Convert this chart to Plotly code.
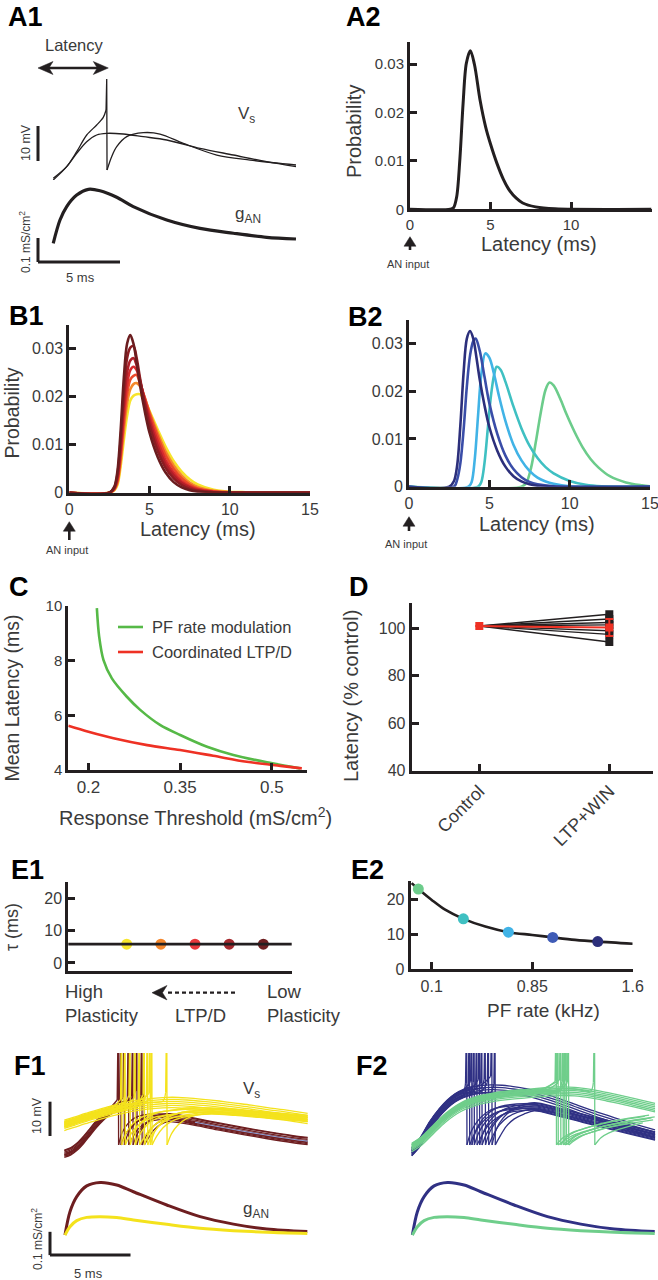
import plotly.graph_objects as go

W, H = 658, 1280
FONT = "Liberation Sans, Arial, Helvetica, sans-serif"
INK = "#231f20"
TXT = "#3a3a3a"

# ======================= DATA =======================
# A1 : somatic voltage (mV above rest) and AN conductance (mS/cm2) vs time (ms)
a1_flat_t = [0.93, 1.75, 2.36, 2.97, 3.58, 4.19, 5.20, 6.42, 7.85, 9.88, 11.91, 13.94, 15.73]
a1_flat_v = [0.48, 3.81, 7.62, 10.95, 12.86, 13.33, 13.14, 12.38, 11.43, 9.05, 7.14, 5.24, 3.81]
a1_pre_t = [0.93, 1.75, 2.36, 2.97, 3.58, 3.98, 4.15]
a1_pre_v = [0.00, 3.81, 8.10, 12.86, 15.71, 17.90, 20.00]
a1_spike_t, a1_spike_peak = 4.19, 28.86
a1_post_t = [4.21, 4.49, 4.80, 5.41, 6.42, 7.44, 8.86, 10.90, 12.93, 15.73]
a1_post_v = [2.86, 6.67, 9.52, 12.38, 13.52, 13.14, 10.48, 7.14, 5.71, 4.29]
a1_g_t = [0.93, 1.34, 1.75, 2.36, 3.07, 3.78, 4.80, 5.81, 7.85, 9.88, 11.91, 13.94, 15.73]
a1_g = [0.007, 0.104, 0.160, 0.208, 0.232, 0.226, 0.199, 0.160, 0.104, 0.069, 0.049, 0.032, 0.025]

# A2 : first-spike latency distribution
a2_t = [0, 2.5, 2.7, 2.9, 3.1, 3.3, 3.5, 3.75, 4.0, 4.35, 4.7, 5.0, 5.4, 5.8, 6.2, 6.6, 7.0, 7.8, 9.0, 15.0]
a2_p = [0, 0, 0.0003, 0.0026, 0.0105, 0.0220, 0.0302, 0.0328, 0.0300, 0.0226, 0.0170, 0.0135,
        0.0095, 0.0062, 0.0038, 0.0023, 0.0013, 0.0005, 0.0001, 0]

# B1 : latency distributions, coordinated LTP/D (low -> high plasticity)
b1_t = [0, 2.5, 2.8, 3.0, 3.2, 3.4, 3.6, 3.8, 4.0, 4.2, 4.4, 4.7, 5.0, 5.5, 6.0, 6.5, 7.0, 7.5, 8.0, 9.0, 10.0, 11.0, 15.0]
b1_p = [
    [0, 0, 0.0012, 0.0045, 0.0130, 0.0240, 0.0310, 0.0328, 0.0310, 0.0270, 0.0225, 0.0170, 0.0125, 0.0075, 0.0042, 0.0022, 0.0011, 0.0005, 0.0002, 0, 0, 0, 0],
    [0, 0, 0.0010, 0.0038, 0.0110, 0.0210, 0.0280, 0.0302, 0.0305, 0.0280, 0.0240, 0.0185, 0.0140, 0.0088, 0.0052, 0.0030, 0.0016, 0.0008, 0.0004, 0.0001, 0, 0, 0],
    [0, 0, 0.0009, 0.0032, 0.0095, 0.0185, 0.0250, 0.0275, 0.0280, 0.0265, 0.0235, 0.0190, 0.0150, 0.0098, 0.0060, 0.0036, 0.0020, 0.0011, 0.0005, 0.0001, 0, 0, 0],
    [0, 0, 0.0008, 0.0028, 0.0085, 0.0165, 0.0225, 0.0255, 0.0262, 0.0255, 0.0232, 0.0195, 0.0158, 0.0108, 0.0068, 0.0042, 0.0024, 0.0013, 0.0007, 0.0002, 0, 0, 0],
    [0, 0, 0.0007, 0.0024, 0.0075, 0.0148, 0.0205, 0.0235, 0.0243, 0.0245, 0.0228, 0.0198, 0.0165, 0.0118, 0.0078, 0.0050, 0.0030, 0.0017, 0.0009, 0.0003, 0.0001, 0, 0],
    [0, 0, 0.0006, 0.0020, 0.0065, 0.0130, 0.0185, 0.0215, 0.0226, 0.0228, 0.0222, 0.0198, 0.0168, 0.0125, 0.0086, 0.0057, 0.0036, 0.0021, 0.0012, 0.0004, 0.0001, 0, 0],
    [0, 0, 0.0005, 0.0016, 0.0055, 0.0110, 0.0160, 0.0192, 0.0202, 0.0205, 0.0205, 0.0192, 0.0170, 0.0132, 0.0096, 0.0066, 0.0044, 0.0028, 0.0017, 0.0006, 0.0002, 0.0001, 0],
]
b1_colors = ["#6b1d1f", "#8c1c22", "#b01f28", "#d62a2d", "#ec4a2b", "#f5892b", "#f7e42c"]

# B2 : latency distributions, PF rate modulation (high -> low PF rate)
b2_t = [
    [0, 2.5, 2.8, 3.0, 3.2, 3.4, 3.6, 3.8, 4.0, 4.2, 4.4, 4.7, 5.0, 5.5, 6.0, 6.5, 7.0, 7.5, 8.0, 9.0, 15.0],
    [0, 2.8, 3.0, 3.2, 3.4, 3.6, 3.8, 4.0, 4.15, 4.4, 4.7, 5.0, 5.5, 6.0, 6.5, 7.0, 7.5, 8.0, 9.0, 15.0],
    [0, 3.7, 3.9, 4.1, 4.3, 4.5, 4.75, 5.0, 5.3, 5.6, 6.0, 6.5, 7.0, 7.5, 8.0, 8.5, 9.0, 10.0, 15.0],
    [0, 4.3, 4.5, 4.7, 4.9, 5.1, 5.3, 5.46, 5.7, 6.0, 6.5, 7.0, 7.5, 8.0, 8.5, 9.0, 10.0, 11.0, 12.0, 15.0],
    [0, 7.0, 7.3, 7.6, 7.9, 8.2, 8.5, 8.74, 9.0, 9.4, 9.8, 10.3, 10.8, 11.3, 11.8, 12.5, 13.5, 14.5, 15.0],
]
b2_p = [
    [0, 0, 0.0012, 0.0045, 0.0130, 0.0240, 0.0310, 0.0326, 0.0310, 0.0270, 0.0225, 0.0170, 0.0125, 0.0075, 0.0042, 0.0022, 0.0011, 0.0005, 0.0002, 0, 0],
    [0, 0, 0.0015, 0.0050, 0.0120, 0.0210, 0.0275, 0.0305, 0.0310, 0.0285, 0.0230, 0.0175, 0.0110, 0.0065, 0.0037, 0.0020, 0.0010, 0.0005, 0.0001, 0],
    [0, 0, 0.0010, 0.0060, 0.0150, 0.0235, 0.0279, 0.0270, 0.0235, 0.0190, 0.0138, 0.0088, 0.0055, 0.0033, 0.0019, 0.0011, 0.0006, 0.0001, 0],
    [0, 0, 0.0010, 0.0050, 0.0120, 0.0190, 0.0235, 0.0251, 0.0245, 0.0220, 0.0168, 0.0122, 0.0086, 0.0060, 0.0041, 0.0028, 0.0012, 0.0004, 0.0001, 0],
    [0, 0, 0.0008, 0.0040, 0.0095, 0.0155, 0.0203, 0.0218, 0.0212, 0.0185, 0.0152, 0.0115, 0.0083, 0.0058, 0.0040, 0.0022, 0.0009, 0.0003, 0.0001],
]
b2_colors = ["#2c2f7b", "#3a4da8", "#41b3e6", "#3fc0c2", "#6ccc8b"]

# C : mean latency vs response threshold
c_pf_thr = [0.2137, 0.2175, 0.2246, 0.2383, 0.2628, 0.2846, 0.317, 0.35, 0.394, 0.437, 0.492, 0.546]
c_pf_lat = [9.92, 8.88, 8.02, 7.35, 6.68, 6.20, 5.65, 5.28, 4.85, 4.55, 4.28, 4.06]
c_ltp_thr = [0.167, 0.2, 0.241, 0.296, 0.35, 0.404, 0.459, 0.514, 0.549]
c_ltp_lat = [5.62, 5.40, 5.16, 4.91, 4.73, 4.52, 4.30, 4.15, 4.06]
c_names = ["PF rate modulation", "Coordinated LTP/D"]

# D : latency (% control)
d_categories = ["Control", "LTP+WIN"]
d_control = 101.0
d_ltpwin = [106.0, 104.0, 102.5, 101.5, 99.0, 97.5, 94.3]
d_mean, d_sem = 100.4, 3.6

# E1 / E2 : membrane time constant
e1_pos = [1, 2, 3, 4, 5]
e1_tau = [5.8, 5.8, 5.8, 5.8, 5.8]
e1_colors = ["#f7e62c", "#f5862b", "#e8383c", "#a5292e", "#6e1f21"]
e2_rate = [0.0, 0.336, 0.672, 1.003, 1.339]
e2_tau = [22.9, 14.4, 10.6, 9.1, 7.9]
e2_colors = ["#6ccc8b", "#3fc0c2", "#41b3e6", "#3f5bb6", "#2c2f7b"]
e2_fit_rate = [-0.05, 0.0, 0.1, 0.2, 0.336, 0.5, 0.672, 0.85, 1.003, 1.17, 1.339, 1.6]
e2_fit_tau = [24.6, 22.9, 19.8, 17.0, 14.4, 12.2, 10.6, 9.8, 9.1, 8.4, 7.9, 7.3]

# F : voltage traces (mV above rest) and conductances, time in ms
f_g_t = [0.93, 1.24, 1.66, 2.28, 3.11, 4.14, 5.18, 7.25, 9.32, 11.39, 13.46, 15.98]
f_g_strong = [0.004, 0.104, 0.169, 0.215, 0.230, 0.219, 0.190, 0.133, 0.083, 0.051, 0.030, 0.019]
f_g_weak = [0.004, 0.040, 0.066, 0.080, 0.083, 0.079, 0.069, 0.050, 0.033, 0.023, 0.016, 0.011]
f_spike_bottom = 4.4

# F1 maroon (low plasticity)
f1m_path_t = [0.89, 1.3, 1.7, 2.1, 2.5, 2.9, 3.3, 3.7, 4.1, 4.5, 5.0, 5.5, 6.0]
f1m_path_v = [1.9, 2.6, 4.0, 6.0, 8.3, 10.6, 12.6, 14.2, 15.3, 16.0, 16.6, 16.9, 17.0]
f1m_spikes = [4.24, 4.39, 4.60, 4.87, 5.14, 5.39, 5.70, 5.84]
f1m_offsets = [0.8, -0.3, 0.4, -0.8, 0.0, 1.0, -0.5, -1.1]
f1m_rec_dt = [0.02, 0.25, 0.6, 1.0, 1.5]
f1m_rec_v = [4.4, 7.3, 9.8, 11.4, 12.3]
f1m_post_t = [7.5, 9.0, 10.5, 12.0, 13.5, 15.0, 16.0]
f1m_post_v = [12.5, 11.2, 9.8, 8.5, 7.3, 6.2, 5.6]
f1_mean_t = [9.0, 10.5, 12.0, 13.5, 15.0, 16.0]
f1_mean_v = [11.0, 9.7, 8.4, 7.2, 6.1, 5.5]
# F1 yellow (high plasticity)
f1y_path_t = [0.89, 1.5, 2.2, 3.0, 3.8, 4.6, 5.4, 6.2, 7.0, 7.6, 8.5, 9.5, 10.5, 11.5, 12.5, 13.5, 14.5, 15.3, 16.0]
f1y_path_v = [10.3, 11.2, 12.3, 13.4, 14.5, 15.4, 16.1, 16.6, 16.9, 17.0, 16.8, 16.4, 15.9, 15.3, 14.7, 14.0, 13.4, 12.8, 12.3]
f1y_flat_offsets = [1.3, 0.7, 0.1, -0.5, -1.1, -1.7]
f1y_spikes = [4.45, 4.66, 4.97, 5.28, 5.55, 5.85, 6.05, 6.21, 6.32, 7.25]
f1y_offsets = [0.6, -0.4, 1.0, 0.0, -0.8, 0.4, -0.2, 0.8, -0.6, 0.2]
f1y_rec_dt = [0.02, 0.3, 0.7, 1.2, 1.9, 2.7]
f1y_rec_v = [4.4, 7.5, 10.0, 11.8, 13.0, 13.6]
f1y_post_t = [8.5, 10.0, 11.5, 13.0, 14.5, 16.0]
f1y_post_v = [14.2, 14.2, 13.8, 13.2, 12.6, 12.0]

# F2 navy (high PF rate)
f2n_path_t = [0.89, 1.4, 2.0, 2.6, 3.1, 3.6, 4.1, 4.6, 5.2, 5.8, 6.5, 7.2, 8.0, 9.0, 10.0, 11.0, 12.2, 13.5, 14.8, 16.0]
f2n_path_v = [2.4, 5.2, 10.0, 13.8, 16.3, 18.2, 19.4, 20.2, 20.7, 20.9, 20.8, 20.4, 19.8, 18.5, 17.0, 15.3, 13.3, 11.3, 9.4, 7.8]
f2n_flat_offsets = [1.0, 0.3, -0.4, -1.1]
f2n_spikes = [4.30, 4.47, 4.61, 4.76, 4.93, 5.09, 5.24, 5.45, 5.65, 5.86, 6.06]
f2n_offsets = [0.5, -0.5, 1.0, 0.0, -1.0, 0.7, -0.3, 0.3, -0.7, 1.2, -1.2]
f2n_rec_dt = [0.02, 0.3, 0.7, 1.2, 1.8]
f2n_rec_v = [4.6, 8.0, 11.0, 13.2, 14.6]
f2n_post_t = [8.5, 10.0, 11.5, 13.0, 14.5, 16.0]
f2n_post_v = [15.5, 14.0, 12.2, 10.4, 8.7, 7.0]
# F2 green (low PF rate)
f2g_path_t = [0.89, 1.5, 2.2, 3.0, 4.0, 5.0, 6.0, 7.0, 8.0, 9.0, 10.0, 11.0, 12.0, 13.0, 14.0, 15.0, 16.0]
f2g_path_v = [3.9, 5.8, 9.0, 12.6, 15.8, 17.6, 18.6, 19.2, 19.6, 20.0, 20.3, 20.2, 19.6, 18.7, 17.7, 16.6, 15.5]
f2g_flat_offsets = [1.0, 0.5, 0.0, -0.5, -1.0, -1.5]
f2g_spikes = [9.86, 9.97, 10.13, 10.28, 10.38, 10.48, 10.62, 12.24]
f2g_offsets = [0.4, -0.3, 0.8, 0.0, -0.6, 0.3, -0.2, 0.5]
f2g_rec_dt = [0.02, 0.4, 0.9, 1.5, 2.2, 3.0, 4.0, 5.5]
f2g_rec_v = [4.6, 6.0, 7.4, 8.4, 9.4, 10.3, 11.2, 12.3]

# ======================= HELPERS =======================
def xd(a, b):
    return [a / W, b / W]


def yd(top, bot):
    return [1 - bot / H, 1 - top / H]


def PX(x):
    return x / W


def PY(y):
    return 1 - y / H


def axname(i):
    return "" if i == 1 else str(i)


def vis_axis(domain, rng, anchor, tickvals, ticktext=None, fs=15, angle=None):
    d = dict(domain=domain, range=rng, anchor=anchor, showline=True, linecolor=INK, linewidth=3,
             ticks="inside", ticklen=7, tickwidth=3, tickcolor=INK, tickvals=tickvals,
             tickfont=dict(family=FONT, size=fs, color=TXT), showgrid=False, zeroline=False,
             fixedrange=True, automargin=False, ticklabeloverflow="allow")
    if ticktext is not None:
        d["ticktext"] = ticktext
    if angle is not None:
        d["tickangle"] = angle
    return d


def hid_axis(domain, rng, anchor):
    return dict(domain=domain, range=rng, anchor=anchor, visible=False, fixedrange=True,
                automargin=False)


traces = []


def line(xs, ys, ax, color, width, shape="spline", smoothing=0.9):
    k = axname(ax)
    ln = dict(color=color, width=width, shape=shape)
    if shape == "spline":
        ln["smoothing"] = smoothing
    traces.append(go.Scatter(x=list(xs), y=list(ys), mode="lines", line=ln, xaxis="x" + k,
                             yaxis="y" + k, hoverinfo="skip", showlegend=False))


def family(ax, color, width, path_t, path_v, flat_offsets, spikes, offsets, rec_dt, rec_v,
           post_t, post_v, top=45.0, tend=16.0):
    for off in flat_offsets:
        line(path_t, [v + off for v in path_v], ax, color, width)
    for ts, off in zip(spikes, offsets):
        pt = [t for t in path_t if t < ts - 0.15]
        pv = [v + off for t, v in zip(path_t, path_v) if t < ts - 0.15]
        sh_t, sh_v = ts - 0.07, pv[-1] + 2.5
        line(pt + [sh_t], pv + [sh_v], ax, color, width)
        line([sh_t, ts, ts + 0.02], [sh_v, top, f_spike_bottom], ax, color, width, shape="linear")
        qt = [ts + dt for dt in rec_dt]
        qv = [f_spike_bottom] + [v + off for v in rec_v[1:]]
        end = qt[-1]
        for t, v in zip(post_t, post_v):
            if t > end + 0.3:
                qt.append(t)
                qv.append(v + off)
        keep = [(t, v) for t, v in zip(qt, qv) if t <= tend]
        line([k[0] for k in keep], [k[1] for k in keep], ax, color, width)


# ======================= AXES =======================
lay = {}
# 1 A1 Vs, 2 A1 g
lay["xaxis"] = hid_axis(xd(29.8, 300.4), [-0.5, 16], "y")
lay["yaxis"] = hid_axis(yd(72, 180), [0, 30.86], "x")
lay["xaxis2"] = hid_axis(xd(29.8, 300.4), [-0.5, 16], "y2")
lay["yaxis2"] = hid_axis(yd(180, 270), [-0.1042, 0.2708], "x2")
# 3 A2
lay["xaxis3"] = vis_axis(xd(410, 651.5), [0, 15], "y3", [0, 5, 10], fs=15)
lay["yaxis3"] = vis_axis(yd(42, 209.3), [0, 0.0346], "x3", [0, 0.01, 0.02, 0.03],
                         ["0", "0.01", "0.02", "0.03"], fs=15)
# 4 B1
lay["xaxis4"] = vis_axis(xd(69.3, 310), [0, 15], "y4", [0, 5, 10, 15], fs=16)
lay["yaxis4"] = vis_axis(yd(325, 492.7), [0, 0.0349], "x4", [0, 0.01, 0.02, 0.03],
                         ["0", "0.01", "0.02", "0.03"], fs=16)
# 5 B2
lay["xaxis5"] = vis_axis(xd(409, 650), [0, 15], "y5", [0, 5, 10, 15], fs=16)
lay["yaxis5"] = vis_axis(yd(320, 486.7), [0, 0.0349], "x5", [0, 0.01, 0.02, 0.03],
                         ["0", "0.01", "0.02", "0.03"], fs=16)
# 6 C
lay["xaxis6"] = vis_axis(xd(68.3, 306.7), [0.167, 0.557], "y6", [0.2, 0.35, 0.5],
                         ["0.2", "0.35", "0.5"], fs=17)
lay["yaxis6"] = vis_axis(yd(606, 770), [4, 10], "x6", [4, 6, 8, 10], fs=15)
# 7 D
lay["xaxis7"] = vis_axis(xd(411.7, 653), [0.48, 2.336], "y7", [1, 2], d_categories, fs=18, angle=-45)
lay["yaxis7"] = vis_axis(yd(603.3, 770.7), [40, 110.6], "x7", [40, 60, 80, 100], fs=16)
# 8 E1
lay["xaxis8"] = vis_axis(xd(68.3, 291.7), [-0.71, 5.83], "y8", [], fs=16)
lay["yaxis8"] = vis_axis(yd(881.7, 971), [-2.5, 25.1], "x8", [0, 10, 20], fs=16)
# 9 E2
lay["xaxis9"] = vis_axis(xd(410.7, 632.7), [-0.057, 1.6], "y9", [0.1, 0.85, 1.6],
                         ["0.1", "0.85", "1.6"], fs=16)
lay["yaxis9"] = vis_axis(yd(881, 969.3), [0, 25.2], "x9", [0, 10, 20], fs=16)
# 10/11 F1, 12/13 F2
lay["xaxis10"] = hid_axis(xd(41.95, 310.07), [-0.5, 16.15], "y10")
lay["yaxis10"] = hid_axis(yd(1053, 1160), [0, 31.2], "x10")
lay["xaxis11"] = hid_axis(xd(41.95, 310.07), [-0.5, 16.15], "y11")
lay["yaxis11"] = hid_axis(yd(1170, 1268), [-0.1373, 0.2833], "x11")
lay["xaxis12"] = hid_axis(xd(389.35, 657.47), [-0.5, 16.15], "y12")
lay["yaxis12"] = hid_axis(yd(1053, 1160), [0, 31.2], "x12")
lay["xaxis13"] = hid_axis(xd(389.35, 657.47), [-0.5, 16.15], "y13")
lay["yaxis13"] = hid_axis(yd(1170, 1268), [-0.1373, 0.2833], "x13")

# ======================= TRACES =======================
# A1
line(a1_flat_t, a1_flat_v, 1, INK, 1.3)
line(a1_pre_t, a1_pre_v, 1, INK, 1.3)
line([a1_pre_t[-1], a1_spike_t, a1_post_t[0]], [a1_pre_v[-1], a1_spike_peak, a1_post_v[0]], 1, INK, 1.3,
     shape="linear")
line(a1_post_t, a1_post_v, 1, INK, 1.3)
line(a1_g_t, a1_g, 2, INK, 3.2)
# A2
line(a2_t, a2_p, 3, INK, 3)
# B1 (yellow drawn first, darkest on top)
for p, c in list(zip(b1_p, b1_colors))[::-1]:
    line(b1_t, p, 4, c, 2.6)
# B2
for t, p, c in list(zip(b2_t, b2_p, b2_colors))[::-1]:
    line(t, p, 5, c, 2.6)
# C
line(c_pf_thr, c_pf_lat, 6, "#56b947", 2.6)
line(c_ltp_thr, c_ltp_lat, 6, "#ee3124", 2.6)
# D
for v in d_ltpwin:
    traces.append(go.Scatter(x=[1, 2], y=[d_control, v], mode="lines", line=dict(color=INK, width=1.4),
                             xaxis="x7", yaxis="y7", hoverinfo="skip", showlegend=False))
traces.append(go.Scatter(x=[2] * len(d_ltpwin), y=d_ltpwin, mode="markers",
                         marker=dict(symbol="square", size=8, color=INK), xaxis="x7", yaxis="y7",
                         hoverinfo="skip", showlegend=False))
traces.append(go.Scatter(x=[1, 2], y=[d_control, d_mean], mode="lines+markers",
                         line=dict(color="#ee3124", width=2),
                         marker=dict(symbol="square", size=8, color="#ee3124"),
                         error_y=dict(type="data", array=[0, d_sem], color="#ee3124", thickness=2, width=4),
                         xaxis="x7", yaxis="y7", hoverinfo="skip", showlegend=False))
# E1
traces.append(go.Scatter(x=e1_pos, y=e1_tau, mode="markers", marker=dict(size=11, color=e1_colors),
                         xaxis="x8", yaxis="y8", hoverinfo="skip", showlegend=False))
# E2
line(e2_fit_rate, e2_fit_tau, 9, INK, 2.6)
traces.append(go.Scatter(x=e2_rate, y=e2_tau, mode="markers", marker=dict(size=11, color=e2_colors),
                         xaxis="x9", yaxis="y9", hoverinfo="skip", showlegend=False))
# F1
MAROON, YELLOW, NAVY, GREEN = "#6e1e20", "#f4e21c", "#303184", "#6fce8b"
family(10, MAROON, 1.3, f1m_path_t, f1m_path_v, [], f1m_spikes, f1m_offsets, f1m_rec_dt, f1m_rec_v,
       f1m_post_t, f1m_post_v)
line(f1_mean_t, f1_mean_v, 10, "#8fa0d6", 1.1)
family(10, YELLOW, 1.3, f1y_path_t, f1y_path_v, f1y_flat_offsets, f1y_spikes, f1y_offsets, f1y_rec_dt,
       f1y_rec_v, f1y_post_t, f1y_post_v)
line(f_g_t, f_g_strong, 11, MAROON, 3)
line(f_g_t, f_g_weak, 11, YELLOW, 3)
# F2
family(12, NAVY, 1.3, f2n_path_t, f2n_path_v, f2n_flat_offsets, f2n_spikes, f2n_offsets, f2n_rec_dt,
       f2n_rec_v, f2n_post_t, f2n_post_v)
family(12, GREEN, 1.3, f2g_path_t, f2g_path_v, f2g_flat_offsets, f2g_spikes, f2g_offsets, f2g_rec_dt,
       f2g_rec_v, [], [])
line(f_g_t, f_g_strong, 13, NAVY, 3)
line(f_g_t, f_g_weak, 13, GREEN, 3)

# ======================= SHAPES =======================
shapes = []


def seg(x0, y0, x1, y1, xref, yref, width=3, color=INK, dash=None):
    ln = dict(color=color, width=width)
    if dash:
        ln["dash"] = dash
    shapes.append(dict(type="line", x0=x0, y0=y0, x1=x1, y1=y1, xref=xref, yref=yref, line=ln,
                       layer="above"))


def poly(pts):
    d = "M " + " L ".join("%.5f,%.5f" % (PX(x), PY(y)) for x, y in pts) + " Z"
    shapes.append(dict(type="path", path=d, xref="paper", yref="paper", fillcolor=INK,
                       line=dict(color=INK, width=0.5), layer="above"))


# scale bars (in data units of their panels)
seg(0, 5.4, 0, 15.4, "x", "y")                # 10 mV
seg(0, -0.071, 0, 0.029, "x2", "y2")          # 0.1 mS/cm2
seg(0, -0.071, 5, -0.071, "x2", "y2")         # 5 ms
seg(0, 7.0, 0, 17.0, "x10", "y10")
seg(0, -0.082, 0, 0.018, "x11", "y11")
seg(0, -0.082, 5, -0.082, "x11", "y11")
# E1 horizontal tau line
seg(0, 5.8, 1, 5.8, "x8 domain", "y8", width=2.6)
# latency double arrow (A1)
seg(PX(46), PY(68), PX(100), PY(68), "paper", "paper", width=2.6)
poly([(38, 68), (53, 61.5), (49, 68), (53, 74.5)])
poly([(108.3, 68), (93.3, 61.5), (97.3, 68), (93.3, 74.5)])
# AN input arrows
for ax_x, tip, tail in [(410, 236.7, 250), (69.3, 521.7, 540), (409, 516.7, 531)]:
    seg(PX(ax_x), PY(tip + 6), PX(ax_x), PY(tail), "paper", "paper", width=2.6)
    poly([(ax_x, tip), (ax_x + 6, tip + 9.5), (ax_x - 6, tip + 9.5)])
# C legend samples
seg(PX(118), PY(627), PX(143), PY(627), "paper", "paper", width=2.6, color="#56b947")
seg(PX(118), PY(652), PX(143), PY(652), "paper", "paper", width=2.6, color="#ee3124")
# E1 dashed arrow
seg(PX(168), PY(992.7), PX(237), PY(992.7), "paper", "paper", width=2.2, dash="4px,3px")
poly([(152, 992.7), (167, 985.5), (162.5, 992.7), (167, 999.9)])

# ======================= TEXT =======================
anns = []


def txt(s, x, y, size, color=TXT, xa="center", ya="middle", angle=0, bold=False):
    if bold:
        s = "<b>" + s + "</b>"
    anns.append(dict(text=s, x=PX(x), y=PY(y), xref="paper", yref="paper", showarrow=False,
                     xanchor=xa, yanchor=ya, textangle=angle,
                     font=dict(family=FONT, size=size, color=color)))


for lab, x, y in [("A1", 6, 17), ("A2", 344, 17), ("B1", 7, 316), ("B2", 346, 317), ("C", 7, 587),
                  ("D", 347, 587), ("E1", 9, 869.5), ("E2", 349, 869.5), ("F1", 12, 1066),
                  ("F2", 354, 1066)]:
    txt(lab, x, y, 27, color="#000000", xa="left", bold=True)

# A1
txt("Latency", 74, 45, 16.5)
txt("V<sub>s</sub>", 246, 115, 17)
txt("g<sub>AN</sub>", 248, 215, 17)
txt("10 mV", 26, 143, 12.5, angle=-90)
txt("0.1 mS/cm<sup>2</sup>", 25, 242, 12, angle=-90)
txt("5 ms", 80, 277, 13)
# A2 / B
txt("Latency (ms)", 539, 244, 20)
txt("Probability", 354, 132, 20, angle=-90)
txt("AN input", 408, 264, 11)
txt("Latency (ms)", 198, 529, 20)
txt("Probability", 11.5, 413, 19.5, angle=-90)
txt("AN input", 67, 550, 11)
txt("Latency (ms)", 537, 524, 20)
txt("AN input", 406, 543.5, 11)
# C
txt("Response Threshold (mS/cm<sup>2</sup>)", 195, 816.5, 20)
txt("Mean Latency (ms)", 11.5, 698, 19.5, angle=-90)
txt(c_names[0], 150, 626.5, 16.5, xa="left")
txt(c_names[1], 150, 651.5, 16.5, xa="left")
# D
txt("Latency (% control)", 351, 696, 20, angle=-90)
# E
txt("τ (ms)", 12, 927, 18, angle=-90)
txt("High", 63, 991.5, 18.5, xa="left")
txt("Plasticity", 63, 1015, 18.5, xa="left")
txt("Low", 265, 991.5, 18.5, xa="left")
txt("Plasticity", 265, 1015, 18.5, xa="left")
txt("LTP/D", 200, 1015, 18.5)
txt("PF rate (kHz)", 543, 1010, 19)
# F
txt("V<sub>s</sub>", 251, 1090, 17)
txt("g<sub>AN</sub>", 256, 1210, 17)
txt("10 mV", 37, 1116, 12.5, angle=-90)
txt("0.1 mS/cm<sup>2</sup>", 37, 1239, 12, angle=-90)
txt("5 ms", 88, 1273, 13)

fig = go.Figure(data=traces)
fig.update_layout(template="none", width=W, height=H, margin=dict(l=0, r=0, t=0, b=0, pad=0),
                  autosize=False, paper_bgcolor="white", plot_bgcolor="rgba(0,0,0,0)",
                  showlegend=False, shapes=shapes, annotations=anns,
                  font=dict(family=FONT, color=TXT), **lay)
fig.write_html("out.html", config={"displayModeBar": False},
               post_script="document.body.style.margin='0';document.body.style.padding='0';")
